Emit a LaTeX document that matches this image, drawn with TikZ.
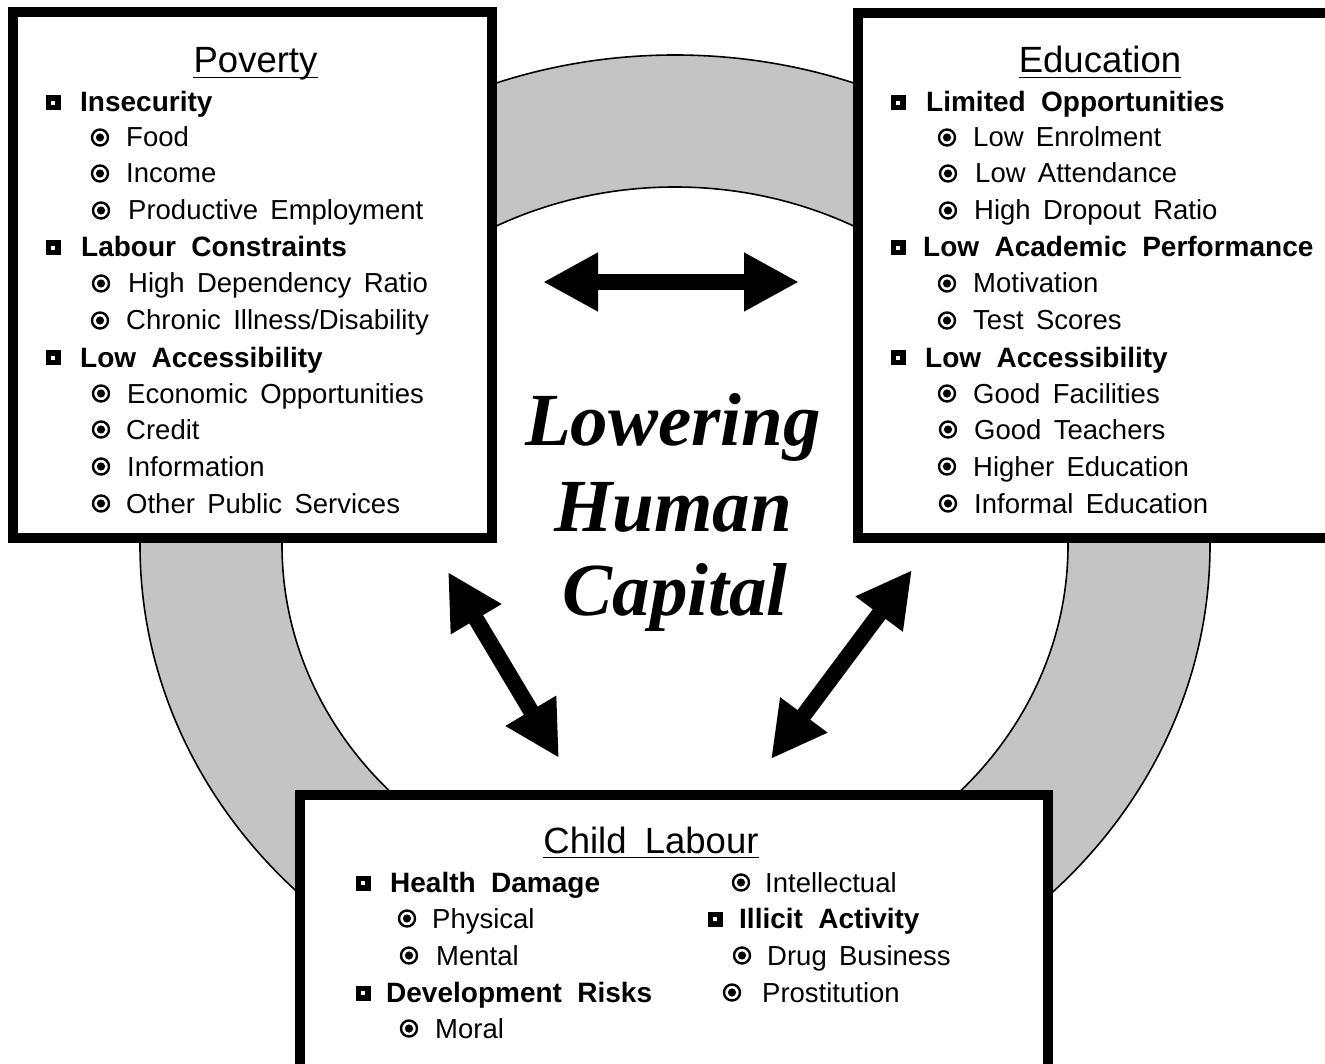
\documentclass[tikz,border=0pt]{standalone}
\usepackage{fontspec}
\setmainfont{Liberation Sans}
\newfontfamily\centralfont{Liberation Serif}
\usetikzlibrary{arrows.meta}
\definecolor{ringgray}{HTML}{C4C4C4}
\newcommand\wideA{\spaceskip.55em\relax}
\newcommand\wideB{\spaceskip.45em\relax}
\newcommand\wideT{\spaceskip.5em\relax}
\newcommand\sqitem[5]{%
  \pic at (#2,#4-9) {sqb};
  \node[lvA] (#1) at (#3,#4) {#5};}
\newcommand\ciitem[5]{%
  \pic at (#2,#4-9.5) {cib};
  \node[lvB] (#1) at (#3,#4) {#5};}
\newcommand\boxtitle[4]{%
  \node[ttl] (#1) at (#2,#3) {#4};
  \draw[line width=1.8pt] ([yshift=-4.5pt]#1.base west) -- ([yshift=-4.5pt]#1.base east);}
\begin{document}
\begin{tikzpicture}[x=1pt,y=-1pt,
  box/.style={draw=black,fill=white,line width=9.5pt},
  lvA/.style={anchor=base west,inner sep=0pt,font={\fontsize{28}{33}\selectfont\bfseries\wideA}},
  lvB/.style={anchor=base west,inner sep=0pt,font={\fontsize{27.5}{33}\selectfont\wideB}},
  ttl/.style={anchor=base,inner sep=0pt,font={\fontsize{36.5}{40}\selectfont\wideT}},
  central/.style={anchor=base,inner sep=0pt,font={\fontsize{75}{85}\selectfont\centralfont\bfseries\itshape}},
  dbl/.style={line width=16pt,{Triangle[length=55pt,width=55pt]}-{Triangle[length=55pt,width=55pt]}},
  sqb/.pic={\fill[black] (-7.5,-7.5) rectangle (7.5,7.5); \fill[white] (-2.4,-2.4) rectangle (2.4,2.4);},
  cib/.pic={\draw[black,line width=2.4pt] (0,0) circle (8); \fill[black] (0,0) circle (4.1);}
]
\clip (0,0) rectangle (1325,1064);
\fill[white] (0,0) rectangle (1325,1064);
% ring
\fill[ringgray,even odd rule] (675,545) ellipse [x radius=535,y radius=490]
  (675,545) ellipse [x radius=393,y radius=358];
\draw[line width=1.6pt] (675,545) ellipse [x radius=535,y radius=490];
\draw[line width=1.6pt] (675,545) ellipse [x radius=393,y radius=358];
% boxes
\draw[box] (13,12) rectangle (492,538);
\draw[box] (858,13) rectangle (1345,538);
\draw[box] (300,795) rectangle (1048,1090);
% Poverty
\boxtitle{povt}{255.5}{73}{Poverty}
\sqitem{p1}{53}{80}{112}{Insecurity}
\ciitem{p11}{100}{126}{147}{Food}
\ciitem{p12}{100}{126}{183}{Income}
\ciitem{p13}{101}{128}{220}{Productive Employment}
\sqitem{p2}{53}{81}{257}{Labour Constraints}
\ciitem{p21}{101}{128}{293}{High Dependency Ratio}
\ciitem{p22}{100}{126}{330}{Chronic Illness/Disability}
\sqitem{p3}{53}{80}{367}{Low Accessibility}
\ciitem{p31}{101}{127}{403}{Economic Opportunities}
\ciitem{p32}{101}{126}{439}{Credit}
\ciitem{p33}{101}{127}{476}{Information}
\ciitem{p34}{101}{126}{513}{Other Public Services}
% Education
\boxtitle{edut}{1100}{73}{Education}
\sqitem{e1}{898}{926}{112}{Limited Opportunities}
\ciitem{e11}{947}{973}{147}{Low Enrolment}
\ciitem{e12}{948}{975}{183}{Low Attendance}
\ciitem{e13}{948}{974}{220}{High Dropout Ratio}
\sqitem{e2}{898}{923}{257}{Low Academic Performance}
\ciitem{e21}{947}{973}{293}{Motivation}
\ciitem{e22}{947}{973}{330}{Test Scores}
\sqitem{e3}{898}{925}{367}{Low Accessibility}
\ciitem{e31}{947}{973}{403}{Good Facilities}
\ciitem{e32}{948}{974}{439}{Good Teachers}
\ciitem{e33}{947}{973}{476}{Higher Education}
\ciitem{e34}{948}{974}{513}{Informal Education}
% Child Labour
\boxtitle{chlt}{651}{853}{Child Labour}
\sqitem{c1}{363}{390}{892}{Health Damage}
\ciitem{c11}{407}{432}{928}{Physical}
\ciitem{c12}{409}{436}{965}{Mental}
\sqitem{c2}{363}{386}{1002}{Development Risks}
\ciitem{c21}{409}{435}{1038}{Moral}
\ciitem{c22}{741}{765}{892}{Intellectual}
\sqitem{c3}{715}{739}{928}{Illicit Activity}
\ciitem{c31}{742}{767}{965}{Drug Business}
\ciitem{c32}{732}{762}{1002}{Prostitution}
% central text
\node[central] (lw) at (673,445) {Lowering};
\node[central] (hm) at (673,531) {Human};
\node[central] (cp) at (675,615) {Capital};
% arrows
\coordinate (hA) at (543,282);
\coordinate (hB) at (799,282);
\coordinate (lA) at (448,572);
\coordinate (lB) at (559,758);
\coordinate (rA) at (912,570);
\coordinate (rB) at (771,759);
\draw[dbl] (hA) -- (hB);
\draw[dbl] (lA) -- (lB);
\draw[dbl] (rA) -- (rB);
\end{tikzpicture}
\end{document}
